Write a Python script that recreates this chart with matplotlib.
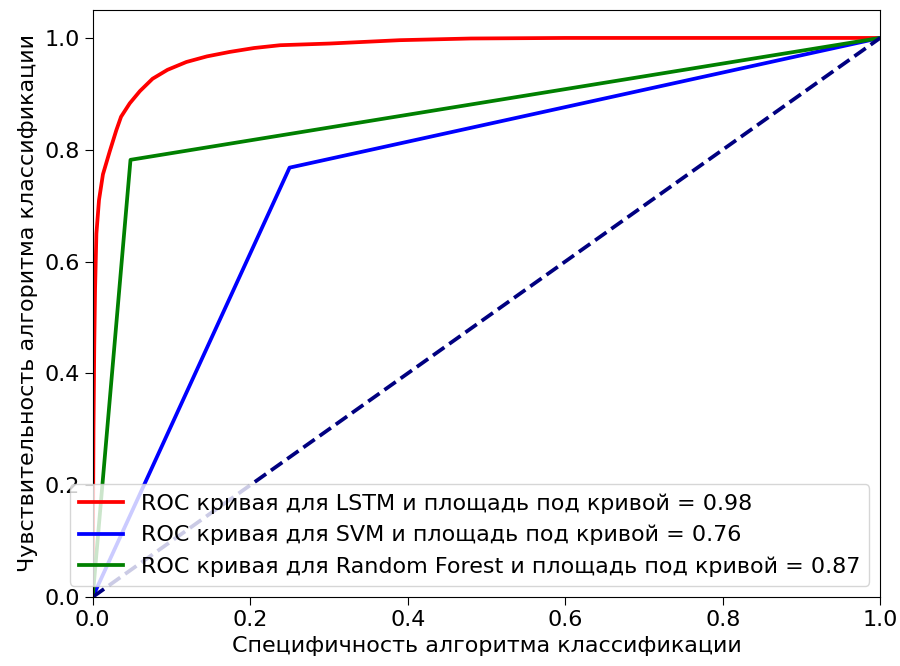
import matplotlib
matplotlib.use("Agg")
import matplotlib.pyplot as plt

# ROC curve data
lstm_fpr = [0.0, 0.0005, 0.001, 0.002, 0.003, 0.0047, 0.008, 0.013, 0.0216, 0.03, 0.036,
            0.047, 0.06, 0.076, 0.095, 0.119, 0.145, 0.174, 0.205, 0.238, 0.301, 0.39,
            0.48, 0.6, 1.0]
lstm_tpr = [0.0, 0.15, 0.3, 0.45, 0.55, 0.65, 0.71, 0.756, 0.797, 0.835, 0.859,
            0.883, 0.905, 0.927, 0.943, 0.957, 0.967, 0.975, 0.982, 0.987, 0.990, 0.996,
            0.999, 1.0, 1.0]
svm_fpr = [0.0, 0.25, 1.0]
svm_tpr = [0.0, 0.768, 1.0]
rf_fpr = [0.0, 0.048, 1.0]
rf_tpr = [0.0, 0.782, 1.0]
auc_values = {"LSTM": 0.98, "SVM": 0.76, "Random Forest": 0.87}

fig = plt.figure(figsize=(9, 6.66), dpi=100)
ax = fig.add_axes([0.103, 0.1036, 0.875, 0.8814])

ax.plot(lstm_fpr, lstm_tpr, color="red", lw=2.7,
        label="ROC кривая для LSTM и площадь под кривой = %0.2f" % auc_values["LSTM"])
ax.plot(svm_fpr, svm_tpr, color="blue", lw=2.7,
        label="ROC кривая для SVM и площадь под кривой = %0.2f" % auc_values["SVM"])
ax.plot(rf_fpr, rf_tpr, color="green", lw=2.7,
        label="ROC кривая для Random Forest и площадь под кривой = %0.2f" % auc_values["Random Forest"])
ax.plot([0, 1], [0, 1], color="navy", lw=2.7, linestyle="--")

ax.set_xlim([0.0, 1.0])
ax.set_ylim([0.0, 1.05])
ax.tick_params(labelsize=16, length=6)
ax.set_xlabel("Специфичность алгоритма классификации", fontsize=16)
ax.set_ylabel("Чувствительность алгоритма классификации", fontsize=16)
ax.legend(loc="lower right", fontsize=16)

fig.savefig("out.png", dpi=100)
